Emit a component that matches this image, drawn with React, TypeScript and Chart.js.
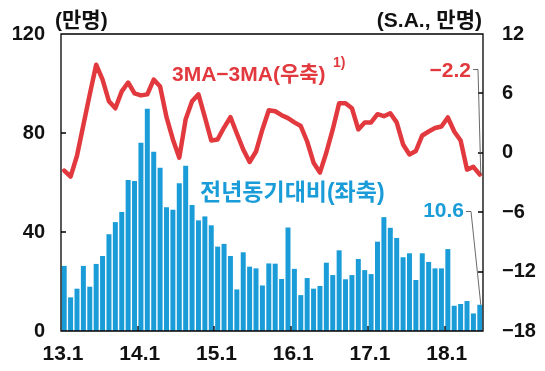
import React, { useEffect, useRef } from "react";
import { Chart, registerables } from "chart.js";

Chart.register(...registerables);

// Year tick labels (January of each year)
const yearLabels = ["13.1", "14.1", "15.1", "16.1", "17.1", "18.1"];
// Month index (0 = 2013.1) where each year label sits (start of January)
const yearTickIdx = [-0.5, 11.5, 23.5, 35.5, 47.5, 59.5];

// Monthly y/y change, 10k persons (left axis), 2013.1 - 2018.6
const yoyValues = [
  26.3, 13.6, 17.1, 26.3, 17.9, 27.1, 30.3, 39.1, 44.0, 48.1, 61.0, 60.6,
  76.1, 89.8, 72.4, 66.0, 50.0, 49.0, 59.7, 66.8, 50.9, 44.7, 46.3, 42.7,
  34.1, 35.2, 30.3, 16.8, 31.8, 26.0, 25.3, 18.4, 27.3, 27.2, 21.0, 41.8,
  25.1, 14.5, 21.4, 17.1, 18.2, 27.6, 22.6, 32.6, 20.9, 22.6, 29.1, 24.6,
  23.0, 36.1, 46.0, 41.7, 37.6, 29.8, 31.4, 20.6, 31.4, 27.9, 25.3, 25.3,
  33.1, 10.2, 10.9, 12.1, 7.1, 10.6,
];

// 3MA-3MA, S.A., 10k persons (right axis)
const maValues = [
  -1.8, -2.4, -0.3, 2.8, 5.9, 8.9, 7.4, 5.2, 4.5, 6.2, 7.1, 6.0,
  5.8, 5.9, 7.4, 6.7, 3.6, 1.35, -0.5, 3.4, 5.2, 5.9, 3.6, 1.25,
  1.35, 2.55, 3.6, 1.95, 0.33, -0.93, 0.13, 2.36, 4.3, 4.2, 3.8, 3.5,
  3.07, 2.7, 1.14, -1.0, -2.0, 0.03, 2.36, 5.0, 5.0, 4.5, 2.36, 3.07,
  3.07, 3.9, 3.7, 4.0, 3.07, 0.84, -0.17, 0.18, 1.75, 2.15, 2.5, 2.66,
  3.57, 2.15, 1.24, -1.7, -1.42, -2.2,
];

const RED = "#e2393e";
const BLUE = "#1a9cd8";
const TICK_FONT = "'Liberation Sans', Arial, 'Noto Sans CJK KR', sans-serif";
const KR_FONT = "'Liberation Sans', Arial, 'Noto Sans CJK KR', sans-serif";

const fmtSigned = (v: number) => (v < 0 ? "\u2212" + Math.abs(v) : String(v));

const overlayPlugin = {
  id: "overlay",
  afterDraw(chart: any) {
    const { ctx, chartArea: a, scales } = chart;
    const L = Math.round(a.left);
    const R = Math.round(a.right);
    const T = Math.round(a.top);
    const B = Math.round(a.bottom);
    ctx.save();

    // plot frame and inward tick marks
    ctx.strokeStyle = "#000";
    ctx.lineWidth = 1.3;
    ctx.beginPath();
    ctx.rect(L, T, R - L, B - T);
    scales.y.ticks.forEach((t: any) => {
      const py = Math.round(scales.y.getPixelForValue(t.value));
      ctx.moveTo(L, py);
      ctx.lineTo(L + 5, py);
    });
    scales.y2.ticks.forEach((t: any) => {
      const py = Math.round(scales.y2.getPixelForValue(t.value));
      ctx.moveTo(R, py);
      ctx.lineTo(R - 5, py);
    });
    scales.x.ticks.forEach((t: any) => {
      const px = Math.round(scales.x.getPixelForValue(t.value));
      ctx.moveTo(px, B);
      ctx.lineTo(px, B - 5);
    });
    ctx.stroke();

    // right axis tick labels, left-aligned
    ctx.fillStyle = "#111";
    ctx.textBaseline = "middle";
    ctx.textAlign = "left";
    ctx.font = `bold 20px ${TICK_FONT}`;
    scales.y2.ticks.forEach((t: any) => {
      ctx.fillText(fmtSigned(t.value), a.right + 19, scales.y2.getPixelForValue(t.value));
    });

    // unit labels
    ctx.font = `bold 21px ${KR_FONT}`;
    ctx.textAlign = "left";
    ctx.fillText("(만명)", 55, 21);
    ctx.textAlign = "right";
    ctx.fillText("(S.A., 만명)", 482, 21);

    // series annotations
    ctx.textAlign = "left";
    ctx.fillStyle = RED;
    ctx.font = `bold 21px ${KR_FONT}`;
    ctx.fillText("3MA\u22123MA(우축)", 172, 75);
    ctx.font = `bold 14px ${KR_FONT}`;
    ctx.fillText("1)", 333, 63);
    ctx.fillStyle = BLUE;
    ctx.font = `bold 23px ${KR_FONT}`;
    ctx.fillText("전년동기대비(좌축)", 200, 194);

    // last-value callouts
    const last = yoyValues.length - 1;
    const lx = scales.x.getPixelForValue(last);
    const lyRed = scales.y2.getPixelForValue(maValues[last]);
    const lyBlue = scales.y.getPixelForValue(yoyValues[last]);
    ctx.font = `bold 21px ${TICK_FONT}`;
    ctx.textAlign = "right";
    ctx.fillStyle = RED;
    ctx.fillText(fmtSigned(maValues[last]), 471, 71);
    ctx.fillStyle = BLUE;
    ctx.fillText(String(yoyValues[last]), 464, 211);

    ctx.strokeStyle = "#444";
    ctx.lineWidth = 0.8;
    ctx.beginPath();
    ctx.moveTo(473, 69.5);
    ctx.lineTo(478, 69.5);
    ctx.lineTo(lx + 1, lyRed);
    ctx.moveTo(466, 211.5);
    ctx.lineTo(471, 211.5);
    ctx.lineTo(lx + 1, lyBlue);
    ctx.stroke();
    ctx.restore();
  },
};

export default function App() {
  const ref = useRef<HTMLCanvasElement | null>(null);

  useEffect(() => {
    document.body.style.margin = "0";
    const canvas = ref.current;
    if (!canvas) return;
    const chart = new Chart(canvas, {
      type: "bar",
      data: {
        datasets: [
          {
            type: "line",
            label: "3MA-3MA",
            data: maValues.map((v, i) => ({ x: i, y: v })),
            yAxisID: "y2",
            xAxisID: "x",
            borderColor: RED,
            borderWidth: 4.5,
            pointRadius: 0,
            tension: 0,
            borderJoinStyle: "round",
            borderCapStyle: "round",
            order: 0,
          } as any,
          {
            type: "bar",
            label: "전년동기대비",
            data: yoyValues.map((v, i) => ({ x: i, y: v })),
            yAxisID: "y",
            xAxisID: "x",
            backgroundColor: BLUE,
            barPercentage: 0.78,
            categoryPercentage: 1,
            order: 1,
          } as any,
        ],
      },
      options: {
        responsive: false,
        animation: false,
        layout: { padding: { top: 34, left: 0, right: 0, bottom: 0 } },
        plugins: { legend: { display: false }, tooltip: { enabled: false } },
        scales: {
          x: {
            type: "linear",
            position: "bottom",
            offset: false,
            min: -0.5,
            max: yoyValues.length - 0.5,
            grid: { display: false, drawTicks: false, offset: false },
            border: { display: false },
            afterBuildTicks: (s: any) => {
              s.ticks = yearTickIdx.map((v) => ({ value: v }));
            },
            afterFit: (s: any) => {
              s.height = 40;
            },
            ticks: {
              autoSkip: false,
              maxRotation: 0,
              padding: 11,
              labelOffset: 2,
              color: "#111",
              font: { family: TICK_FONT, size: 21, weight: "bold" },
              callback: (_v: any, i: number) => yearLabels[i],
            },
          },
          y: {
            position: "left",
            min: 0,
            max: 120,
            grid: { display: false, drawTicks: false },
            border: { display: false },
            afterFit: (s: any) => {
              s.width = 61;
            },
            ticks: {
              stepSize: 40,
              padding: 16,
              color: "#111",
              font: { family: TICK_FONT, size: 20, weight: "bold" },
            },
          },
          y2: {
            position: "right",
            min: -18,
            max: 12,
            grid: { display: false, drawTicks: false },
            border: { display: false },
            afterFit: (s: any) => {
              s.width = 62;
            },
            ticks: {
              stepSize: 6,
              display: false,
            },
          },
        },
      } as any,
      plugins: [overlayPlugin],
    });
    return () => chart.destroy();
  }, []);

  return (
    <div style={{ position: "fixed", left: 0, top: 0, width: 545, height: 371, background: "#fff" }}>
      <canvas ref={ref} width={545} height={371} />
    </div>
  );
}
